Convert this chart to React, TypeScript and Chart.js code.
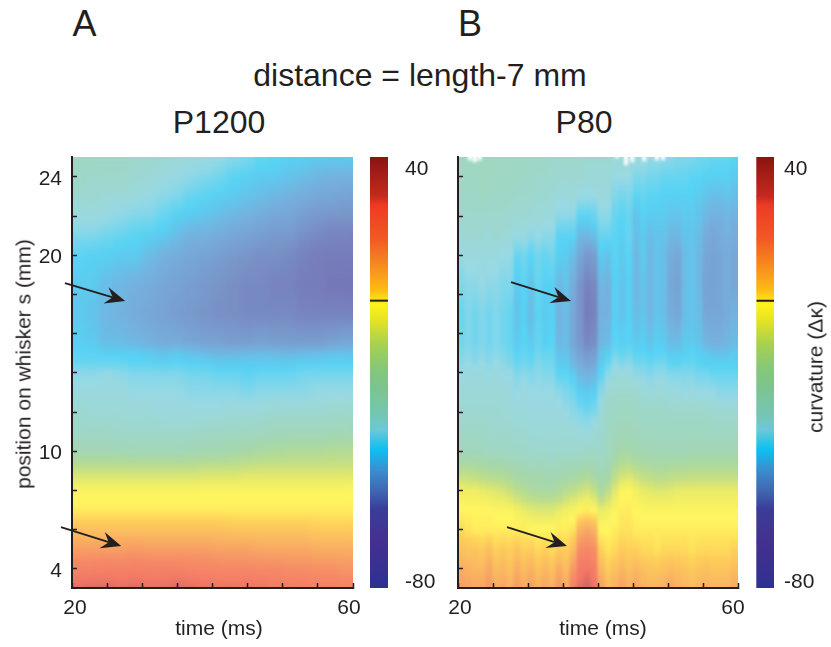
import { useEffect, useRef } from 'react';
import { Chart, registerables } from 'chart.js';

Chart.register(...registerables);

const INK = '#231f20';
const FONT = '"Liberation Sans", Arial, sans-serif';

// Colour scale of the figure.
const colormapValues = [40, 29, 26.6, 17, 8.5, 3, -1, -5, -12, -19, -24, -32, -36, -41.5, -47, -53, -58, -67, -80];
const colormapColors = ['#8a1410', '#c52a1e', '#ee3a24', '#f15a24', '#f7941d', '#fdbb13', '#fff11a', '#e8e521', '#a8d050', '#84c878', '#7cc48e', '#74c6b4', '#6cc8d8', '#0cc0f0', '#3a8fd0', '#3f67b0', '#3a3d98', '#45308f', '#2e3192'];
const colorbarTickPlaces = [36.7, -78.5];
const colorbarTickLabels = ['40', '-80'];
const colorbarMarker = [-0.28, 0.28];

// Position on the whisker (mm) of each row of the two maps.
const positions = [25.02, 24, 23, 22, 21, 20, 18.5, 17, 15.5, 15, 14.5, 14, 13, 12, 11, 10, 9, 8, 7, 6, 5, 4, 3.15, 3.03];

const timeTicks = [20, 25, 30, 35, 40, 45, 50, 55, 60];
const timeTickLabels = ['20', '60'];
const timeLabelPlacesA = [20.43, 59.43];
const timeLabelPlacesB = [20.29, 59.29];
const positionTicks = [4, 6, 8, 10, 12, 14, 16, 18, 20, 22, 24];
const positionLabels = [4, 10, 20, 24];

// P1200: one curvature profile per time column.
const timesA = [21, 23, 25, 27, 29, 31, 33, 35, 37, 39, 41, 43, 45, 47, 49, 51, 53, 55, 57, 59];
const curvatureA = [
  [-30, -31, -33, -35, -38, -41, -43, -43, -42, -41, -40, -37, -35, -33, -31, -25, -11, -2, 0, 6, 13, 21, 27, 33],
  [-30, -32, -33, -35, -38, -42, -43, -44, -43, -41, -40, -37, -35, -34, -31, -25, -11, -2, 0, 6, 13, 21, 28, 33],
  [-31, -32, -34, -36, -39, -42, -45, -46, -45, -42, -40, -36, -35, -34, -31, -25, -11, -2, 0, 6, 13, 22, 28, 33],
  [-31, -32, -34, -37, -40, -43, -46, -47, -45, -42, -40, -37, -35, -34, -32, -25, -11, -2, 0, 6, 13, 21, 27, 33],
  [-32, -33, -35, -38, -41, -43, -47, -48, -46, -42, -41, -38, -36, -34, -32, -26, -11, -2, 0, 6, 14, 22, 28, 33],
  [-32, -34, -36, -38, -42, -45, -48, -49, -47, -43, -41, -38, -36, -34, -32, -26, -11, -2, 0, 6, 13, 21, 27, 32],
  [-33, -35, -37, -40, -43, -47, -49, -50, -48, -44, -42, -38, -36, -35, -32, -26, -11, -2, 0, 6, 13, 21, 27, 32],
  [-34, -36, -38, -42, -45, -48, -50, -51, -48, -43, -41, -38, -36, -35, -32, -26, -11, -2, 0, 6, 13, 21, 28, 32],
  [-34, -37, -40, -43, -47, -49, -51, -52, -49, -44, -42, -39, -37, -35, -32, -25, -11, -2, 0, 6, 13, 20, 27, 32],
  [-35, -38, -41, -44, -47, -50, -52, -53, -50, -45, -42, -39, -37, -35, -31, -24, -10, -2, 0, 6, 13, 20, 26, 31],
  [-36, -39, -42, -45, -48, -51, -53, -54, -50, -46, -43, -40, -37, -35, -31, -24, -10, -2, 0, 6, 12, 19, 25, 31],
  [-37, -41, -43, -46, -49, -52, -54, -54, -51, -46, -43, -40, -37, -34, -30, -22, -10, -2, 0, 5, 12, 19, 25, 30],
  [-38, -42, -44, -47, -50, -53, -55, -55, -51, -45, -43, -41, -38, -34, -30, -21, -9, -2, 0, 5, 12, 19, 25, 30],
  [-40, -43, -45, -48, -51, -54, -55, -55, -50, -45, -43, -40, -37, -34, -29, -19, -9, -2, 0, 5, 11, 18, 24, 29],
  [-41, -43, -46, -49, -52, -54, -56, -55, -51, -45, -43, -40, -37, -33, -28, -18, -9, -2, 0, 5, 11, 18, 23, 28],
  [-42, -44, -47, -49, -52, -55, -56, -55, -51, -46, -43, -40, -37, -33, -28, -17, -9, -2, 0, 5, 11, 17, 23, 28],
  [-42, -45, -48, -51, -54, -56, -57, -56, -51, -45, -42, -39, -37, -33, -28, -17, -9, -2, 0, 5, 11, 17, 22, 27],
  [-43, -46, -49, -52, -55, -57, -57, -56, -51, -45, -42, -39, -36, -33, -28, -17, -9, -2, 0, 4, 10, 16, 21, 26],
  [-43, -47, -49, -53, -56, -57, -58, -56, -50, -44, -42, -39, -36, -32, -27, -16, -9, -2, 0, 4, 10, 16, 21, 26],
  [-43, -47, -50, -53, -56, -57, -58, -56, -49, -44, -42, -39, -36, -32, -26, -16, -9, -2, 0, 4, 10, 15, 20, 25],
];

// P80: one curvature profile per time column.
const timesB = [20.5, 21.5, 22.5, 23.5, 24.5, 25.5, 26.5, 27.5, 28.5, 29.5, 30.5, 31.5, 32.5, 33.5, 34.5, 35.5, 36.5, 37.5, 38.5, 39.5, 40.5, 41.5, 42.5, 43.5, 44.5, 45.5, 46.5, 47.5, 48.5, 49.5, 50.5, 51.5, 52.5, 53.5, 54.5, 55.5, 56.5, 57.5, 58.5, 59.5];
const curvatureB = [
  [-30, -30, -31, -32, -34, -36, -38, -40, -39, -38, -37, -36, -34, -33, -31, -28, -15, -4, -1, 2, 6, 10, 13, 14],
  [-29, -30, -31, -32, -33, -35, -37, -38, -38, -37, -36, -35, -34, -33, -31, -27, -15, -5, -1, 1, 5, 9, 12, 13],
  [-29, -30, -31, -32, -33, -35, -37, -39, -39, -38, -37, -35, -34, -33, -31, -28, -16, -5, -1, 0, 5, 8, 11, 12],
  [-29, -29, -30, -32, -33, -35, -36, -38, -38, -37, -36, -35, -34, -33, -31, -28, -17, -6, -1, 0, 4, 8, 11, 12],
  [-29, -29, -31, -32, -34, -35, -37, -39, -39, -38, -37, -36, -34, -33, -32, -29, -18, -7, -1, 0, 6, 11, 14, 15],
  [-29, -30, -31, -32, -33, -35, -37, -38, -38, -37, -36, -35, -34, -33, -32, -29, -19, -8, -2, 0, 3, 7, 10, 11],
  [-29, -30, -31, -32, -34, -36, -38, -39, -39, -38, -37, -36, -34, -34, -32, -30, -20, -9, -2, 0, 4, 8, 11, 12],
  [-30, -30, -31, -33, -34, -36, -38, -40, -40, -39, -38, -36, -35, -34, -32, -30, -21, -11, -2, 0, 3, 6, 9, 10],
  [-30, -30, -32, -34, -36, -40, -43, -44, -43, -41, -40, -38, -36, -35, -33, -31, -23, -14, -4, 0, 5, 10, 13, 14],
  [-30, -31, -32, -33, -35, -39, -41, -42, -41, -40, -39, -37, -35, -35, -33, -31, -24, -16, -6, 0, 3, 7, 10, 11],
  [-31, -31, -32, -34, -37, -41, -44, -45, -43, -41, -40, -38, -36, -35, -34, -32, -26, -18, -7, -1, 4, 9, 12, 13],
  [-31, -32, -33, -34, -36, -39, -40, -41, -40, -39, -38, -37, -36, -35, -34, -32, -25, -19, -8, -1, 2, 6, 9, 10],
  [-31, -32, -33, -35, -37, -40, -42, -43, -42, -40, -39, -38, -36, -35, -34, -32, -26, -20, -8, -1, 3, 8, 11, 12],
  [-32, -32, -34, -35, -37, -39, -42, -42, -41, -40, -39, -38, -36, -35, -34, -33, -27, -20, -8, -1, 2, 6, 9, 10],
  [-32, -33, -35, -37, -41, -42, -46, -47, -46, -44, -43, -41, -37, -35, -34, -32, -26, -18, -6, 0, 4, 10, 14, 15],
  [-32, -33, -35, -37, -41, -43, -44, -45, -45, -44, -43, -41, -38, -36, -34, -32, -25, -15, -4, 0, 3, 7, 10, 11],
  [-32, -33, -34, -37, -41, -45, -48, -49, -49, -47, -46, -43, -39, -37, -34, -32, -24, -13, -3, 1, 7, 14, 20, 22],
  [-32, -33, -36, -41, -46, -49, -53, -53, -52, -50, -48, -46, -42, -38, -35, -32, -23, -11, -1, 9, 17, 24, 28, 29],
  [-33, -34, -36, -41, -46, -52, -56, -57, -55, -52, -50, -47, -43, -39, -35, -31, -21, -9, 0, 11, 19, 26, 30, 31],
  [-33, -34, -36, -40, -45, -51, -55, -56, -54, -51, -49, -46, -42, -38, -34, -31, -23, -12, -1, 9, 17, 23, 27, 28],
  [-33, -34, -35, -37, -40, -43, -46, -47, -46, -44, -43, -41, -37, -34, -33, -32, -27, -20, -6, -1, 3, 8, 12, 13],
  [-33, -34, -35, -37, -40, -44, -47, -47, -45, -42, -40, -37, -33, -31, -30, -29, -24, -14, -4, -1, 1, 4, 7, 8],
  [-34, -36, -38, -40, -41, -41, -42, -42, -41, -39, -37, -35, -32, -30, -28, -24, -16, -7, -2, 0, 2, 6, 9, 10],
  [-34, -36, -39, -41, -42, -43, -44, -44, -42, -40, -38, -35, -32, -29, -27, -22, -12, -2, 0, 1, 4, 8, 12, 13],
  [-34, -36, -38, -40, -40, -41, -42, -42, -41, -39, -37, -35, -32, -29, -27, -22, -11, -1, 0, 1, 3, 6, 9, 10],
  [-35, -38, -41, -44, -45, -46, -46, -45, -43, -41, -39, -37, -33, -30, -28, -24, -13, -4, -1, 0, 3, 8, 11, 12],
  [-35, -38, -40, -42, -43, -43, -44, -44, -42, -41, -39, -37, -34, -31, -29, -25, -15, -6, -2, 0, 2, 6, 9, 10],
  [-36, -39, -41, -43, -45, -46, -46, -46, -44, -42, -40, -38, -35, -31, -29, -25, -16, -7, -2, 0, 2, 5, 8, 9],
  [-36, -39, -41, -43, -44, -44, -44, -44, -42, -41, -39, -37, -34, -31, -29, -26, -17, -8, -2, 0, 1, 5, 8, 9],
  [-37, -40, -42, -43, -44, -45, -45, -45, -43, -41, -39, -37, -34, -31, -29, -26, -17, -8, -2, 0, 2, 6, 9, 10],
  [-37, -40, -42, -44, -46, -48, -49, -48, -45, -43, -41, -38, -35, -32, -29, -26, -16, -7, -2, 0, 2, 7, 11, 12],
  [-38, -40, -42, -44, -46, -49, -50, -49, -45, -43, -41, -38, -35, -32, -29, -26, -16, -6, -2, 0, 2, 6, 9, 10],
  [-38, -40, -42, -43, -44, -45, -45, -45, -43, -42, -40, -38, -36, -32, -29, -26, -16, -6, -2, 0, 2, 5, 8, 9],
  [-38, -41, -42, -43, -44, -44, -44, -44, -43, -41, -40, -38, -35, -32, -29, -25, -15, -6, -2, 0, 1, 4, 7, 8],
  [-39, -41, -43, -44, -45, -46, -46, -45, -44, -42, -41, -39, -36, -32, -29, -25, -15, -6, -2, 0, 2, 5, 8, 9],
  [-39, -42, -44, -46, -48, -49, -50, -49, -46, -43, -42, -39, -36, -32, -29, -25, -15, -6, -2, 0, 2, 6, 9, 10],
  [-40, -42, -45, -47, -49, -50, -50, -49, -47, -44, -42, -40, -36, -33, -30, -25, -15, -6, -2, 0, 2, 5, 8, 9],
  [-40, -42, -45, -47, -48, -49, -49, -49, -47, -44, -42, -40, -37, -33, -30, -25, -15, -6, -2, 0, 2, 5, 8, 9],
  [-40, -42, -44, -46, -47, -48, -48, -48, -46, -44, -42, -40, -37, -33, -30, -25, -15, -6, -2, 0, 2, 5, 8, 9],
  [-41, -43, -45, -47, -48, -49, -49, -47, -45, -43, -42, -40, -37, -33, -30, -24, -15, -6, -2, 0, 3, 7, 10, 11],
];

// Missing samples at the whisker tip in P80 (left blank in the map).
const blankTimesB = [21.7, 22.4, 23.1, 42.7, 44, 44.9, 46.6, 48.4, 49.3];
const blankLowsB = [24.85, 24.75, 24.85, 24.95, 24.6, 24.75, 24.8, 24.85, 24.85];
const blankTop = 25.02;

// Arrows, [time, position] of tail and tip.
const arrowTailsA = [[19, 18.59], [18.43, 6.14]];
const arrowTipsA = [[27.57, 17.67], [27, 5.17]];
const arrowTailsB = [[27.57, 18.64], [27, 6.14]];
const arrowTipsB = [[36.14, 17.67], [35.57, 5.17]];

const hexToRgb = (h: string) => [1, 3, 5].map((i) => parseInt(h.slice(i, i + 2), 16));

function colormap(v: number, wash: number): string {
  let i = colormapValues.length - 2;
  for (let k = 0; k < colormapValues.length - 1; k++) {
    if (v >= colormapValues[k + 1]) { i = k; break; }
  }
  const hi = colormapValues[i];
  const lo = colormapValues[i + 1];
  const f = Math.max(0, Math.min(1, (hi - v) / (hi - lo)));
  const a = hexToRgb(colormapColors[i]);
  const b = hexToRgb(colormapColors[i + 1]);
  const c = a.map((x, n) => x + (b[n] - x) * f).map((x) => Math.round(x + (255 - x) * wash));
  return `rgb(${c[0]},${c[1]},${c[2]})`;
}

const HEAT_WASH = 0.3;

// The maps are shaded smoothly, as in the figure: soften the drawn cells inside the plot.
const smoothPlugin = (radius: number) => ({
  id: 'smoothCells',
  afterDatasetsDraw(chart: any) {
    const { ctx, canvas, chartArea: a } = chart;
    ctx.save();
    ctx.beginPath();
    ctx.rect(a.left, a.top, a.right - a.left, a.bottom - a.top);
    ctx.clip();
    ctx.filter = `blur(${radius}px)`;
    ctx.drawImage(canvas, 0, 0);
    ctx.restore();
  },
});

const arrowPlugin = (tails: number[][], tips: number[][]) => ({
  id: 'arrows',
  afterDraw(chart: any) {
    const { ctx, scales } = chart;
    ctx.save();
    ctx.strokeStyle = INK;
    ctx.fillStyle = INK;
    ctx.lineWidth = 1.8;
    tails.forEach((tail, i) => {
      const x0 = scales.x.getPixelForValue(tail[0]);
      const y0 = scales.y.getPixelForValue(tail[1]);
      const x1 = scales.x.getPixelForValue(tips[i][0]);
      const y1 = scales.y.getPixelForValue(tips[i][1]);
      const ang = Math.atan2(y1 - y0, x1 - x0);
      const pt = (along: number, across: number) => [
        x1 + along * Math.cos(ang) - across * Math.sin(ang),
        y1 + along * Math.sin(ang) + across * Math.cos(ang),
      ];
      const neck = pt(-13, 0);
      ctx.beginPath();
      ctx.moveTo(x0, y0);
      ctx.lineTo(neck[0], neck[1]);
      ctx.stroke();
      const a = pt(-20, -8.5);
      const b = pt(-20, 8.5);
      ctx.beginPath();
      ctx.moveTo(x1, y1);
      ctx.lineTo(a[0], a[1]);
      ctx.lineTo(neck[0], neck[1]);
      ctx.lineTo(b[0], b[1]);
      ctx.closePath();
      ctx.fill();
    });
    ctx.restore();
  },
});

const baseOptions = {
  responsive: false,
  animation: false as const,
  events: [] as string[],
  plugins: { legend: { display: false }, tooltip: { enabled: false }, title: { display: false } },
};

const noAxisPadding = (s: any) => {
  s.paddingLeft = 0;
  s.paddingRight = 0;
  s.paddingTop = 0;
  s.paddingBottom = 0;
};

function verticalGradient(ctx: any, from: number, to: number, stops: string[]) {
  const s = ctx.chart.scales.y;
  const y0 = s ? s.getPixelForValue(from) : NaN;
  const y1 = s ? s.getPixelForValue(to) : NaN;
  if (!Number.isFinite(y0) || !Number.isFinite(y1)) return 'transparent';
  const g = ctx.chart.ctx.createLinearGradient(0, y0, 0, y1);
  stops.forEach((c, i) => g.addColorStop(i / (stops.length - 1), c));
  return g;
}

function heatConfig(times: number[], grid: number[][], plotWidth: number, yAxisWidth: number, rightPad: number, showY: boolean, blanks: { x: number; y: number[] }[], tails: number[][], tips: number[][], blur: number, labelPlaces: number[]): any {
  const thickness = plotWidth / times.length;
  const cell = (r: number) => (ctx: any) => {
    if (ctx.dataIndex === undefined) return 'transparent';
    const top = grid[ctx.dataIndex][r];
    const bottom = grid[ctx.dataIndex][r + 1];
    return verticalGradient(ctx, positions[r], positions[r + 1], [
      colormap(top, HEAT_WASH),
      colormap((top + bottom) / 2, HEAT_WASH),
      colormap(bottom, HEAT_WASH),
    ]);
  };
  const datasets: any[] = [];
  if (blanks.length) {
    datasets.push({ data: blanks, backgroundColor: '#ffffff', barThickness: 4, grouped: false, inflateAmount: 0 });
  }
  for (let r = 0; r < positions.length - 1; r++) {
    datasets.push({
      data: times.map((t) => ({ x: t, y: [positions[r + 1], positions[r]] })),
      backgroundColor: cell(r),
      borderWidth: 0,
      barThickness: thickness,
      grouped: false,
      inflateAmount: 0.5,
    });
  }
  return {
    type: 'bar',
    data: { datasets },
    plugins: [smoothPlugin(blur), arrowPlugin(tails, tips)],
    options: {
      ...baseOptions,
      layout: { padding: { left: 0, top: 7, right: rightPad, bottom: 0 } },
      scales: {
        x: {
          type: 'linear',
          min: 20,
          max: 60,
          offset: false,
          afterBuildTicks: (s: any) => { s.ticks = [...timeTicks, ...labelPlaces].map((value) => ({ value })); },
          afterFit: (s: any) => { s.height = 59; noAxisPadding(s); },
          border: { color: INK, width: 2, z: 1 },
          grid: {
            offset: false,
            drawOnChartArea: false,
            tickLength: -5,
            tickWidth: 1.5,
            tickColor: (c: any) => (labelPlaces.includes(c.tick?.value) ? 'transparent' : INK),
            z: 1,
          },
          ticks: {
            autoSkip: false,
            maxRotation: 0,
            padding: 13,
            z: 1,
            color: INK,
            font: { family: FONT, size: 21 },
            callback: (v: number) => timeTickLabels[labelPlaces.indexOf(v)] ?? '',
          },
        },
        y: {
          type: 'linear',
          min: positions[positions.length - 1],
          max: positions[0],
          afterBuildTicks: (s: any) => { s.ticks = positionTicks.map((value) => ({ value })); },
          afterFit: (s: any) => { s.width = yAxisWidth; noAxisPadding(s); },
          border: { color: INK, width: 2, z: 1 },
          grid: { drawOnChartArea: false, tickLength: -5, tickWidth: 1.5, tickColor: INK, z: 1 },
          ticks: {
            autoSkip: false,
            padding: 15,
            labelOffset: 2,
            z: 1,
            color: INK,
            font: { family: FONT, size: 21 },
            callback: (v: number) => (showY && positionLabels.includes(v) ? String(v) : ''),
          },
        },
      },
    },
  };
}

function colorbarConfig(leftPad: number, axisWidth: number, labelGap: number): any {
  const segment = (i: number) => (ctx: any) => {
    if (ctx.dataIndex === undefined) return 'transparent';
    return verticalGradient(ctx, colormapValues[i], colormapValues[i + 1], [colormapColors[i], colormapColors[i + 1]]);
  };
  const datasets: any[] = [
    { data: [{ x: 'bar', y: colorbarMarker }], backgroundColor: INK, grouped: false, barPercentage: 1, categoryPercentage: 1, inflateAmount: 0 },
  ];
  for (let i = 0; i < colormapValues.length - 1; i++) {
    datasets.push({
      data: [{ x: 'bar', y: [colormapValues[i + 1], colormapValues[i]] }],
      backgroundColor: segment(i),
      grouped: false,
      barPercentage: 1,
      categoryPercentage: 1,
      inflateAmount: 0.4,
    });
  }
  return {
    type: 'bar',
    data: { labels: ['bar'], datasets },
    options: {
      ...baseOptions,
      layout: { padding: { left: leftPad, top: 7, right: 0, bottom: 59 } },
      scales: {
        x: { type: 'category', display: false },
        y: {
          type: 'linear',
          position: 'right',
          min: -80,
          max: 40,
          afterBuildTicks: (s: any) => { s.ticks = colorbarTickPlaces.map((value) => ({ value })); },
          afterFit: (s: any) => { s.width = axisWidth; noAxisPadding(s); },
          border: { display: false },
          grid: { display: false, drawTicks: false },
          ticks: {
            autoSkip: false,
            padding: labelGap,
            color: INK,
            font: { family: FONT, size: 21 },
            callback: (v: number) => colorbarTickLabels[colorbarTickPlaces.indexOf(v)] ?? '',
          },
        },
      },
    },
  };
}

function ChartCanvas({ config, left, top, width, height }: { config: () => any; left: number; top: number; width: number; height: number }) {
  const ref = useRef<HTMLCanvasElement>(null);
  useEffect(() => {
    const chart = new Chart(ref.current as HTMLCanvasElement, config());
    return () => chart.destroy();
  }, []);
  return <canvas ref={ref} width={width} height={height} style={{ position: 'absolute', left, top, width, height, display: 'block' }} />;
}

function Label({ text, x, y, size, rotate }: { text: string; x: number; y: number; size: number; rotate?: boolean }) {
  return (
    <div
      style={{
        position: 'absolute',
        left: x,
        top: y,
        transform: `translate(-50%, -50%)${rotate ? ' rotate(-90deg)' : ''}`,
        fontFamily: FONT,
        fontSize: size,
        lineHeight: 1,
        color: INK,
        whiteSpace: 'nowrap',
      }}
    >
      {text}
    </div>
  );
}

const blanksB = blankTimesB.map((x, i) => ({ x, y: [blankLowsB[i], blankTop] }));

export default function App() {
  return (
    <div style={{ position: 'fixed', left: 0, top: 0, width: 831, height: 647, background: '#ffffff', overflow: 'hidden' }}>
      <Label text="A" x={84.5} y={24} size={36} />
      <Label text="B" x={470} y={24} size={36} />
      <Label text="distance = length-7 mm" x={420} y={75} size={32} />
      <Label text="P1200" x={219} y={122} size={32} />
      <Label text="P80" x={584} y={122} size={32} />
      <ChartCanvas left={0} top={150} width={366} height={497} config={() => heatConfig(timesA, curvatureA, 281, 72, 13, true, [], arrowTailsA, arrowTipsA, 3.5, timeLabelPlacesA)} />
      <ChartCanvas left={390} top={150} width={362} height={497} config={() => heatConfig(timesB, curvatureB, 280, 68, 14, false, blanksB, arrowTailsB, arrowTipsB, 1.5, timeLabelPlacesB)} />
      <ChartCanvas left={365} top={150} width={70} height={497} config={() => colorbarConfig(5, 47, 17)} />
      <ChartCanvas left={752} top={150} width={70} height={497} config={() => colorbarConfig(4.3, 48, 10)} />
      <Label text="position on whisker s (mm)" x={23} y={364} size={21} rotate />
      <Label text="curvature (Δκ)" x={815} y={367} size={21} rotate />
      <Label text="time (ms)" x={219} y={627} size={21} />
      <Label text="time (ms)" x={603} y={627} size={21} />
    </div>
  );
}
